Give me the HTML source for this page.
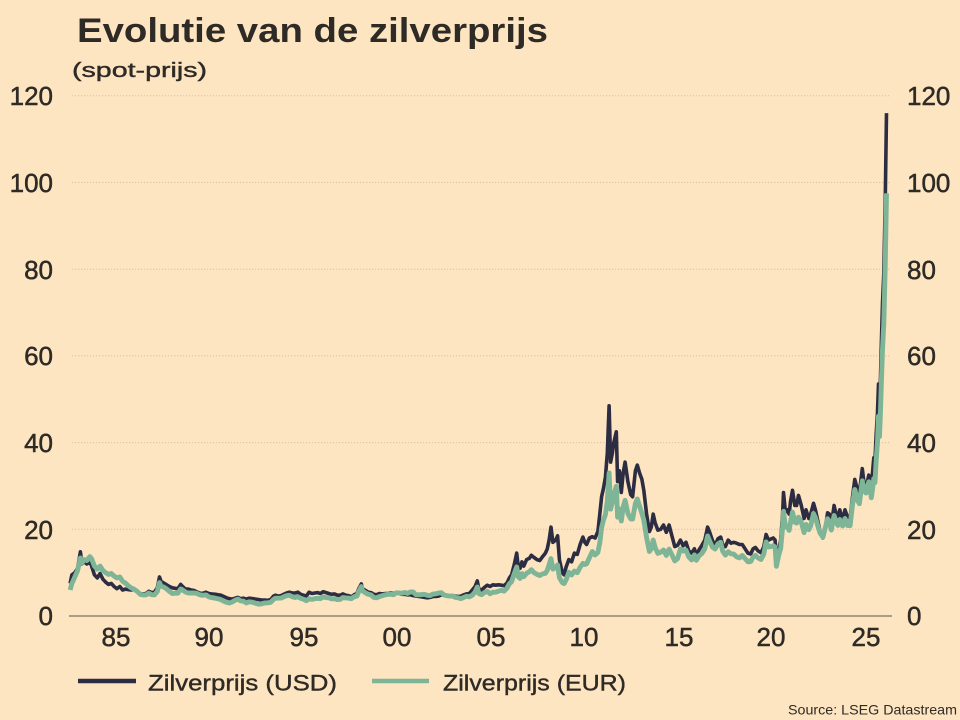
<!DOCTYPE html>
<html>
<head>
<meta charset="utf-8">
<style>
  html, body { margin: 0; padding: 0; background: #fde5c1; }
  body { width: 960px; height: 720px; overflow: hidden; }
  svg { display: block; }
  text { font-family: "Liberation Sans", sans-serif; fill: #2e2a26; }
</style>
</head>
<body>
<svg width="960" height="720" viewBox="0 0 960 720" xmlns="http://www.w3.org/2000/svg">
  <rect x="0" y="0" width="960" height="720" fill="#fde5c1"/>

  <!-- Title -->
  <text x="77" y="42" font-size="34" font-weight="bold" textLength="471" lengthAdjust="spacingAndGlyphs">Evolutie van de zilverprijs</text>
  <text x="72" y="77" font-size="20" stroke="#2e2a26" stroke-width="0.4" textLength="135" lengthAdjust="spacingAndGlyphs">(spot-prijs)</text>

  <!-- Gridlines -->
  <g stroke="#d6c2a0" stroke-width="1" stroke-dasharray="1.2,1.8">
    <line x1="72" y1="95.8" x2="890" y2="95.8"/>
    <line x1="72" y1="182.5" x2="890" y2="182.5"/>
    <line x1="72" y1="269.2" x2="890" y2="269.2"/>
    <line x1="72" y1="355.9" x2="890" y2="355.9"/>
    <line x1="72" y1="442.6" x2="890" y2="442.6"/>
    <line x1="72" y1="529.3" x2="890" y2="529.3"/>
  </g>
  <line x1="69" y1="616" x2="892" y2="616" stroke="#7a7062" stroke-width="1.2"/>

  <!-- Left y labels -->
  <g font-size="26" text-anchor="end" stroke="#2e2a26" stroke-width="0.5">
    <text x="53" y="105">120</text>
    <text x="53" y="192">100</text>
    <text x="53" y="279">80</text>
    <text x="53" y="365">60</text>
    <text x="53" y="452">40</text>
    <text x="53" y="539">20</text>
    <text x="53" y="625">0</text>
  </g>
  <!-- Right y labels -->
  <g font-size="26" text-anchor="start" stroke="#2e2a26" stroke-width="0.5">
    <text x="907" y="105">120</text>
    <text x="907" y="192">100</text>
    <text x="907" y="279">80</text>
    <text x="907" y="365">60</text>
    <text x="907" y="452">40</text>
    <text x="907" y="539">20</text>
    <text x="907" y="625">0</text>
  </g>
  <!-- X labels -->
  <g font-size="26" text-anchor="middle" stroke="#2e2a26" stroke-width="0.5">
    <text x="116" y="646">85</text>
    <text x="209" y="646">90</text>
    <text x="304" y="646">95</text>
    <text x="397" y="646">00</text>
    <text x="491" y="646">05</text>
    <text x="584" y="646">10</text>
    <text x="679" y="646">15</text>
    <text x="771" y="646">20</text>
    <text x="866" y="646">25</text>
  </g>

  <!-- USD series -->
  <polyline fill="none" stroke="#2c2d42" stroke-width="3.6" stroke-linejoin="round" stroke-linecap="butt" points="70.1,583.5 71.9,574.8 74.8,572.7 77.6,568.3 80.4,551.8 81.9,564.0 84.1,561.8 86.9,564.0 89.8,561.8 91.6,566.1 94.4,574.8 97.3,577.9 100.1,573.5 102.9,579.2 105.7,582.2 108.5,584.4 111.3,583.5 114.1,586.5 116.9,588.7 119.8,586.5 122.6,590.0 125.4,589.1 128.2,589.6 131.0,590.0 133.8,589.6 136.6,590.9 140.4,593.9 143.2,593.9 146.0,593.5 148.8,591.3 151.6,592.6 154.4,592.2 157.3,587.8 159.5,577.0 161.0,581.3 163.8,583.1 166.6,584.8 169.4,586.5 172.3,587.8 175.1,588.3 177.9,588.7 180.7,584.4 182.6,586.5 185.4,589.1 188.2,589.1 191.0,590.0 193.8,590.4 196.6,591.7 199.4,593.0 202.3,593.5 206.0,592.2 208.8,593.5 211.6,593.9 215.4,594.3 218.2,594.8 221.0,595.2 223.8,596.5 226.6,597.8 229.4,598.7 232.3,599.1 235.1,598.2 237.9,597.4 240.7,598.7 243.5,598.2 246.3,599.1 249.1,598.2 252.9,598.7 255.7,599.1 258.5,599.5 261.3,600.0 265.1,600.0 267.9,600.4 270.7,599.5 273.5,596.1 275.4,595.2 278.2,596.1 281.0,595.6 283.8,594.3 286.6,593.0 289.4,592.2 292.3,593.0 295.1,593.0 297.9,592.2 300.7,594.3 303.5,595.2 306.3,596.1 309.1,592.2 311.9,593.5 314.8,593.0 317.6,592.6 320.4,593.5 323.2,591.7 326.0,592.6 328.8,593.5 331.6,594.3 334.4,593.9 337.3,595.2 340.1,595.2 342.9,593.9 345.7,595.2 348.5,595.6 351.3,596.9 354.1,594.8 356.9,593.5 358.8,588.7 361.3,583.9 362.6,588.7 365.4,590.4 368.2,592.2 371.0,592.6 373.8,594.3 376.6,594.8 379.4,593.5 382.3,593.9 385.1,593.5 387.9,593.5 390.7,593.0 393.5,593.5 396.3,592.6 399.1,593.5 401.9,594.3 404.8,594.3 407.6,594.8 410.4,594.8 413.2,595.6 416.0,596.1 418.8,596.5 421.6,596.9 424.4,597.4 427.3,597.8 430.1,597.4 432.9,596.5 435.7,596.5 438.5,596.1 441.3,594.8 444.1,595.2 446.9,596.1 449.8,596.5 452.6,595.6 455.4,596.1 458.2,596.5 461.0,596.1 463.8,594.8 466.6,593.9 469.4,593.5 472.3,590.0 475.1,586.5 477.3,580.9 478.8,589.1 481.6,590.0 484.4,587.4 487.3,585.2 490.1,586.5 492.9,584.8 495.7,585.2 498.5,584.8 501.3,585.2 504.1,585.7 506.9,583.1 509.4,577.9 511.6,574.8 514.4,564.0 516.7,553.1 518.2,566.1 520.1,568.3 521.9,561.8 523.8,566.1 526.6,559.6 529.4,558.3 531.3,555.3 534.1,557.5 536.9,559.6 539.8,560.5 542.6,556.6 545.4,553.1 547.3,548.8 549.1,540.1 551.0,527.1 552.9,542.3 555.7,540.1 557.6,535.8 559.4,559.6 562.3,572.7 564.1,574.8 566.0,567.4 568.8,559.6 571.6,561.8 574.4,553.1 577.3,554.4 580.1,544.5 582.9,537.1 584.8,542.3 586.6,544.5 589.4,538.0 592.3,536.7 595.1,538.0 597.9,531.5 599.8,514.1 601.6,496.8 603.5,488.1 605.4,477.3 607.3,453.4 609.1,405.8 610.6,462.1 612.3,453.4 613.8,442.6 616.3,431.8 617.6,481.6 619.4,470.8 621.3,492.5 623.2,472.9 625.1,462.1 627.9,481.6 630.7,494.6 632.6,496.8 635.4,470.8 637.3,465.1 639.5,472.9 641.9,479.4 643.8,490.3 646.6,514.1 649.4,531.5 651.3,527.1 653.2,514.1 655.1,522.8 657.9,530.2 660.7,529.3 663.5,525.0 666.3,532.3 669.1,525.0 671.9,535.8 674.8,546.6 677.6,545.3 680.4,540.1 683.2,545.8 686.0,542.3 688.8,551.0 691.6,553.1 694.4,548.8 696.3,555.3 699.1,549.7 701.9,545.3 704.8,540.1 707.6,527.1 709.4,531.5 712.3,540.1 715.1,545.8 717.9,538.8 720.7,537.1 722.6,544.5 725.4,546.6 728.2,540.1 731.0,543.2 733.8,542.3 736.6,543.2 739.4,544.5 742.3,544.5 745.1,548.8 747.9,553.1 750.7,554.0 753.1,548.8 755.4,547.5 758.2,551.0 761.0,552.7 763.8,546.6 766.1,534.5 768.5,540.1 771.3,538.8 773.2,538.0 775.1,540.1 776.4,561.8 778.8,548.8 780.7,540.1 782.6,514.1 783.5,492.5 785.4,512.0 787.3,509.8 789.1,514.1 790.6,501.1 792.5,490.3 794.8,505.5 796.6,505.5 798.5,495.5 801.3,505.5 804.1,518.5 806.0,509.8 808.8,518.5 810.7,514.1 813.5,503.3 815.4,509.8 818.2,522.8 820.1,531.5 822.9,538.0 824.8,531.5 827.6,512.8 829.4,514.1 831.3,525.0 834.1,505.5 836.0,514.1 837.9,516.3 839.8,509.8 842.6,520.6 845.0,509.8 847.3,516.3 850.1,518.5 852.5,496.8 854.8,479.4 857.6,490.3 859.4,492.5 862.3,468.6 864.1,483.8 866.0,488.1 868.8,475.1 871.3,486.0 872.5,472.9 873.8,457.8 875,460.0 876.2,433.9 877.5,412.3 878.5,384.1 879.5,407.9 880.5,377.6 881.5,338.6 882.5,303.9 883.8,273.5 885.2,204.2 886.5,113.1"/>

  <!-- EUR series -->
  <polyline fill="none" stroke="#7fb597" stroke-width="4.9" stroke-linejoin="round" stroke-linecap="butt" points="70.1,590.0 71.9,583.5 74.8,577.0 77.6,570.5 80.4,557.9 81.9,563.1 84.1,559.6 86.9,560.5 89.8,556.6 91.6,558.8 94.4,566.1 97.3,569.2 100.1,566.1 102.9,570.5 105.7,572.7 108.5,574.4 111.3,573.5 114.1,576.1 116.9,577.9 119.8,577.0 122.6,581.3 125.4,583.1 128.2,585.7 131.0,587.8 133.8,589.1 136.6,590.9 140.4,594.5 143.2,594.9 146.0,594.9 148.8,593.1 151.6,594.7 154.4,594.9 157.3,591.5 159.5,582.6 161.0,586.1 163.8,587.1 166.6,588.9 169.4,591.4 172.3,593.5 175.1,593.2 177.9,593.2 180.7,589.0 182.6,589.9 185.4,592.0 188.2,593.0 191.0,593.0 193.8,592.9 196.6,593.3 199.4,594.7 202.3,595.3 206.0,594.9 208.8,596.9 211.6,597.6 215.4,598.2 218.2,598.9 221.0,599.7 223.8,601.2 226.6,602.4 229.4,603.0 232.3,601.9 235.1,600.3 237.9,599.1 240.7,600.9 243.5,601.2 246.3,603.0 249.1,601.8 252.9,602.3 255.7,603.3 258.5,604.2 261.3,603.9 265.1,602.9 267.9,602.8 270.7,602.3 273.5,599.4 275.4,598.2 278.2,598.2 281.0,598.1 283.8,596.8 286.6,595.7 289.4,595.3 292.3,596.8 295.1,597.5 297.9,596.8 300.7,598.4 303.5,599.2 306.3,600.7 309.1,598.7 311.9,599.4 314.8,598.7 317.6,598.3 320.4,598.7 323.2,596.9 326.0,597.6 328.8,597.8 331.6,598.9 334.4,598.7 337.3,599.6 340.1,599.4 342.9,597.6 345.7,597.9 348.5,598.1 351.3,598.7 354.1,596.7 356.9,596.1 358.8,591.4 361.3,586.6 362.6,590.9 365.4,592.8 368.2,594.3 371.0,594.9 373.8,597.5 376.6,597.8 379.4,596.6 382.3,595.7 385.1,594.9 387.9,594.3 390.7,594.3 393.5,594.7 396.3,592.8 399.1,593.0 401.9,593.2 404.8,592.5 407.6,593.4 410.4,591.9 413.2,592.0 416.0,594.8 418.8,594.8 421.6,594.6 424.4,594.3 427.3,595.3 430.1,595.5 432.9,594.1 435.7,593.8 438.5,593.1 441.3,592.7 444.1,595.0 446.9,595.7 449.8,596.1 452.6,596.0 455.4,597.4 458.2,597.9 461.0,598.7 463.8,597.4 466.6,596.3 469.4,596.8 472.3,595.2 475.1,592.0 477.3,587.0 478.8,593.6 481.6,594.7 484.4,592.5 487.3,591.4 490.1,593.8 492.9,592.2 495.7,592.2 498.5,591.2 501.3,590.3 504.1,591.1 506.9,588.3 509.4,583.7 511.6,581.7 514.4,573.3 516.7,566.9 518.2,576.7 520.1,578.5 521.9,573.6 523.8,576.7 526.6,573.3 529.4,571.7 531.3,569.7 534.1,572.7 536.9,574.3 539.8,575.5 542.6,573.9 545.4,573.3 547.3,570.3 549.1,564.8 551.0,558.6 552.9,569.1 555.7,567.4 557.6,564.9 559.4,577.7 562.3,582.7 564.1,583.6 566.0,580.0 568.8,572.3 571.6,575.0 574.4,571.1 577.3,572.7 580.1,567.4 582.9,563.4 584.8,564.5 586.6,563.8 589.4,557.8 592.3,551.5 595.1,555.0 597.9,552.4 599.8,542.7 601.6,527.7 603.5,519.9 605.4,514.7 607.3,501.5 609.1,473.0 610.6,509.1 612.3,502.3 613.8,494.7 616.3,486.3 617.6,517.2 619.4,509.2 621.3,521.0 623.2,506.8 625.1,500.3 627.9,513.4 630.7,518.9 632.6,519.1 635.4,503.4 637.3,499.0 639.5,506.0 641.9,513.3 643.8,520.0 646.6,537.6 649.4,551.5 651.3,548.7 653.2,540.0 655.1,547.5 657.9,553.4 660.7,552.2 663.5,550.0 666.3,555.4 669.1,549.1 671.9,554.8 674.8,560.9 677.6,558.6 680.4,548.9 683.2,551.0 686.0,550.2 688.8,556.9 691.6,559.9 694.4,554.9 696.3,560.3 699.1,555.7 701.9,553.5 704.8,548.9 707.6,535.9 709.4,540.5 712.3,547.0 715.1,549.1 717.9,543.9 720.7,542.3 722.6,551.0 725.4,555.1 728.2,551.7 731.0,553.8 733.8,554.1 736.6,556.8 739.4,557.9 742.3,555.4 745.1,558.6 747.9,561.8 750.7,561.6 753.1,557.0 755.4,555.4 758.2,558.0 761.0,559.5 763.8,554.1 766.1,541.9 768.5,547.0 771.3,546.5 773.2,545.7 775.1,547.0 776.4,566.3 778.8,554.9 780.7,548.2 782.6,527.4 783.5,511.3 785.4,527.1 787.3,526.0 789.1,530.4 790.6,521.8 792.5,512.1 794.8,522.3 796.6,523.1 798.5,517.2 801.3,522.3 804.1,532.6 806.0,524.4 808.8,529.7 810.7,525.8 813.5,513.5 815.4,517.6 818.2,527.2 820.1,533.1 822.9,537.2 824.8,529.7 827.6,518.7 829.4,521.7 831.3,530.1 834.1,515.5 836.0,521.7 837.9,525.4 839.8,519.5 842.6,526.0 845.0,518.5 847.3,525.4 850.1,525.7 852.5,504.6 854.8,489.5 857.6,500.6 859.4,503.7 862.3,480.8 864.1,490.1 866.0,493.0 868.8,481.8 871.3,497.8 872.5,489.4 873.8,478.6 875,482.5 876.2,460.4 877.5,441.7 878.5,416.2 879.5,436.5 880.5,410.5 881.5,378.9 882.5,349.4 883.8,323.4 885.2,267.0 886.5,193.3"/>

  <!-- Legend -->
  <line x1="78" y1="681" x2="136" y2="681" stroke="#2c2d42" stroke-width="4.5"/>
  <text x="148" y="690.5" font-size="22" stroke="#2e2a26" stroke-width="0.4" textLength="189" lengthAdjust="spacingAndGlyphs">Zilverprijs (USD)</text>
  <line x1="372" y1="681" x2="429" y2="681" stroke="#7fb597" stroke-width="4.5"/>
  <text x="443" y="690.5" font-size="22" stroke="#2e2a26" stroke-width="0.4" textLength="183" lengthAdjust="spacingAndGlyphs">Zilverprijs (EUR)</text>

  <!-- Source -->
  <text x="957" y="714.5" font-size="14" text-anchor="end" textLength="169" lengthAdjust="spacingAndGlyphs">Source: LSEG Datastream</text>
</svg>
</body>
</html>
